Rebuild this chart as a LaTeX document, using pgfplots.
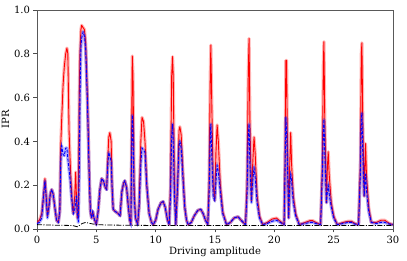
\documentclass[border=0pt]{standalone}
\usepackage{fontspec}
\setmainfont{DejaVu Serif}
\usepackage{pgfplots}
\usepackage{pgfplotstable}
\pgfplotsset{compat=1.18}
\pgfplotstableread{
x r b
0 0.03 0.025
0.2 0.04 0.03
0.4 0.07 0.05
0.55 0.15 0.15
0.67 0.23 0.22
0.75 0.17 0.16
0.88 0.06 0.05
1.0 0.10 0.10
1.12 0.16 0.16
1.24 0.18 0.18
1.36 0.16 0.16
1.5 0.10 0.10
1.65 0.04 0.04
1.8 0.03 0.03
1.92 0.08 0.08
2.0 0.38 0.30
2.08 0.50 0.38
2.2 0.66 0.34
2.3 0.74 0.335
2.42 0.80 0.37
2.52 0.826 0.37
2.6 0.80 0.32
2.7 0.45 0.27
2.8 0.30 0.22
2.9 0.18 0.15
3.0 0.10 0.10
3.06 0.07 0.07
3.18 0.15 0.09
3.26 0.26 0.12
3.34 0.12 0.15
3.4 0.05 0.08
3.48 0.06 0.03
3.56 0.60 0.25
3.62 0.80 0.60
3.7 0.91 0.83
3.76 0.93 0.87
3.88 0.92 0.90
4.0 0.91 0.88
4.1 0.85 0.82
4.25 0.60 0.58
4.4 0.25 0.25
4.5 0.08 0.08
4.6 0.05 0.05
4.7 0.08 0.08
4.8 0.05 0.05
5.0 0.02 0.02
5.15 0.08 0.08
5.3 0.18 0.18
5.45 0.23 0.23
5.6 0.22 0.22
5.75 0.19 0.19
5.87 0.18 0.18
5.95 0.30 0.28
6.05 0.42 0.35
6.14 0.44 0.33
6.25 0.40 0.31
6.32 0.20 0.20
6.42 0.09 0.09
6.6 0.08 0.08
6.85 0.07 0.07
7.0 0.06 0.06
7.15 0.17 0.17
7.3 0.21 0.21
7.4 0.22 0.22
7.55 0.19 0.19
7.7 0.10 0.10
7.82 0.04 0.04
7.91 0.02 0.02
7.97 0.40 0.30
8.03 0.79 0.52
8.09 0.70 0.45
8.18 0.20 0.15
8.3 0.05 0.05
8.48 0.02 0.02
8.6 0.10 0.10
8.75 0.40 0.30
8.85 0.51 0.37
8.98 0.49 0.36
9.1 0.40 0.35
9.25 0.20 0.20
9.45 0.07 0.07
9.65 0.03 0.03
9.8 0.02 0.02
10.0 0.04 0.04
10.2 0.09 0.09
10.45 0.12 0.12
10.63 0.125 0.125
10.8 0.10 0.10
11.0 0.04 0.04
11.14 0.02 0.02
11.25 0.20 0.15
11.35 0.70 0.42
11.42 0.787 0.48
11.48 0.70 0.40
11.58 0.20 0.15
11.7 0.02 0.02
11.85 0.20 0.20
11.97 0.45 0.38
12.04 0.467 0.40
12.15 0.43 0.37
12.3 0.25 0.23
12.45 0.10 0.10
12.6 0.04 0.04
12.74 0.02 0.02
13.0 0.03 0.03
13.25 0.06 0.06
13.55 0.085 0.085
13.8 0.09 0.09
14.0 0.07 0.07
14.2 0.04 0.04
14.39 0.02 0.02
14.5 0.20 0.15
14.6 0.70 0.42
14.65 0.84 0.48
14.72 0.60 0.35
14.85 0.20 0.15
14.98 0.13 0.13
15.08 0.35 0.22
15.18 0.475 0.29
15.28 0.40 0.26
15.45 0.20 0.17
15.65 0.08 0.07
15.97 0.02 0.02
16.3 0.03 0.03
16.6 0.05 0.05
16.94 0.056 0.056
17.2 0.04 0.04
17.57 0.02 0.02
17.7 0.20 0.15
17.8 0.70 0.42
17.87 0.87 0.48
17.94 0.50 0.30
18.07 0.13 0.12
18.18 0.30 0.22
18.29 0.42 0.28
18.38 0.35 0.24
18.55 0.15 0.12
18.75 0.06 0.05
19.02 0.02 0.02
19.4 0.03 0.025
19.8 0.045 0.035
20.18 0.05 0.04
20.5 0.035 0.03
20.82 0.02 0.02
20.9 0.30 0.25
20.97 0.77 0.51
21.03 0.77 0.45
21.1 0.40 0.30
21.21 0.05 0.05
21.3 0.30 0.20
21.38 0.44 0.25
21.45 0.30 0.22
21.6 0.15 0.12
21.8 0.07 0.06
22.1 0.02 0.02
22.6 0.03 0.025
23.0 0.038 0.03
23.23 0.038 0.03
23.5 0.03 0.025
23.9 0.02 0.02
24.05 0.30 0.25
24.13 0.75 0.45
24.18 0.855 0.50
24.25 0.50 0.35
24.39 0.12 0.12
24.47 0.28 0.17
24.54 0.353 0.20
24.62 0.25 0.16
24.8 0.12 0.10
25.0 0.06 0.05
25.3 0.02 0.02
25.8 0.03 0.025
26.2 0.035 0.03
26.5 0.035 0.03
26.8 0.025 0.022
27.1 0.02 0.02
27.25 0.30 0.25
27.33 0.80 0.50
27.38 0.85 0.53
27.45 0.50 0.35
27.57 0.15 0.15
27.64 0.30 0.22
27.69 0.39 0.25
27.76 0.25 0.18
27.95 0.10 0.08
28.17 0.03 0.03
28.6 0.03 0.025
29.0 0.04 0.03
29.3 0.04 0.03
29.7 0.025 0.022
30 0.02 0.02
}\ipr
\pgfplotstableread{
x k
0 0.02
1 0.018
2 0.017
3 0.016
3.4 0.01
3.8 0.025
4.1 0.03
4.5 0.025
5 0.02
6 0.018
10 0.016
15 0.016
20 0.016
25 0.016
30 0.016
}\base
\begin{document}
\fontsize{10}{12}\selectfont
\begin{tikzpicture}
\begin{axis}[
  scale only axis,
  width=356pt, height=219pt,
  xmin=0, xmax=30, ymin=0, ymax=1.0,
  xtick={0,5,...,30},
  ytick={0,0.2,...,1.0},
  yticklabel style={/pgf/number format/.cd, fixed, fixed zerofill, precision=1},
  /pgf/number format/assume math mode=true,
  tick align=outside,
  xtick pos=bottom, ytick pos=left,
  major tick length=3.5pt,
  tick style={black!70, line width=0.7pt},
  axis line style={black!65, line width=0.8pt},
  tick label style={font=\fontsize{10}{12}\selectfont},
  label style={font=\fontsize{10}{12}\selectfont},
  xlabel={Driving amplitude},
  ylabel={IPR},
  xlabel style={yshift=4pt},
  ylabel style={yshift=-2pt},
  clip=true,
]
\addplot[red, opacity=0.3, line width=3.2pt, line join=round] table[x=x, y=r] {\ipr};
\addplot[red, line width=0.9pt, line join=round] table[x=x, y=r] {\ipr};
\addplot[blue, opacity=0.3, line width=3.2pt, line join=round] table[x=x, y=b] {\ipr};
\addplot[blue, line width=0.9pt, dash pattern=on 3pt off 1.5pt] table[x=x, y=b] {\ipr};
\addplot[black, line width=0.8pt, dash pattern=on 5pt off 1.5pt on 1pt off 1.5pt] table[x=x, y=k] {\base};
\end{axis}
\pgfresetboundingbox
\path ([xshift=-37pt,yshift=-32pt]current axis.south west) rectangle ([xshift=14pt,yshift=10pt]current axis.north east);
\end{tikzpicture}
\end{document}
